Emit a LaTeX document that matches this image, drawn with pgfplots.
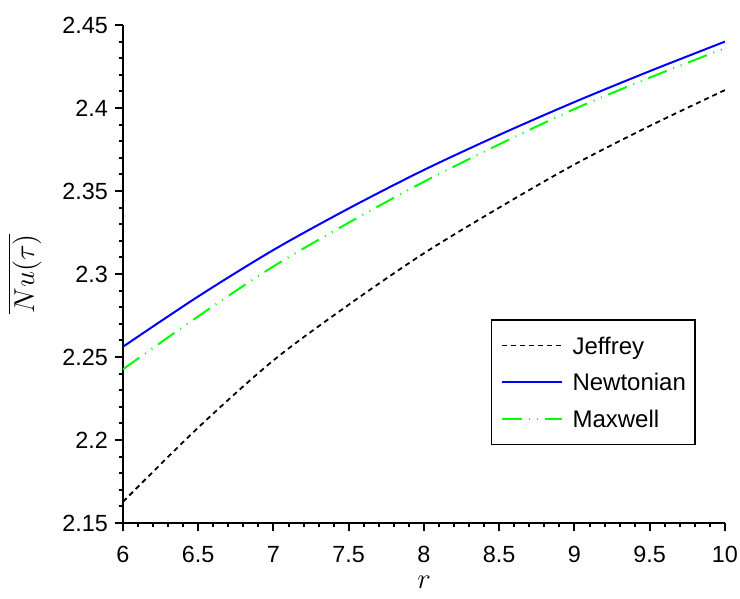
\documentclass[border=0pt]{standalone}
\usepackage{fontspec}
\setmainfont{Liberation Sans}
\usepackage{pgfplots}
\usepackage{pgfplotstable}
\pgfplotsset{compat=1.18}

% Average Nusselt number against r for the three fluid models
\pgfplotstableread{
r    jeffrey  newtonian  maxwell
6.0  2.1628   2.2562     2.2426
6.5  2.2075   2.2865     2.2745
7.0  2.2480   2.3145     2.3046
7.5  2.2815   2.3395     2.3309
8.0  2.3125   2.3627     2.3556
8.5  2.3400   2.3838     2.3781
9.0  2.3660   2.4036     2.3994
9.5  2.3892   2.4222     2.4183
10.0 2.4108   2.4400     2.4360
}\nudata

\begin{document}
\begin{tikzpicture}
\useasboundingbox (-61.5pt,-38pt) rectangle (308.5pt,261.5pt);
\begin{axis}[
  at={(0,0)}, anchor=south west,
  scale only axis, width=301pt, height=249pt,
  xmin=6, xmax=10, ymin=2.15, ymax=2.45,
  axis x line*=bottom, axis y line*=left,
  axis line style={line width=1pt},
  xtick={6,6.5,7,7.5,8,8.5,9,9.5,10},
  ytick={2.15,2.2,2.25,2.3,2.35,2.4,2.45},
  minor tick num=4,
  tick align=outside,
  major tick length=4pt, minor tick length=2pt,
  every tick/.style={black, line width=1pt},
  tick label style={font=\fontsize{11.7}{13}\selectfont},
  xticklabel style={yshift=-4pt},
  /pgf/number format/assume math mode=true,
  xlabel={$r$},
  ylabel={$\overline{Nu(\tau)}$},
  every axis x label/.style={at={(axis description cs:0.5,-0.12)}, anchor=center, font=\fontsize{14.4}{16}\selectfont},
  every axis y label/.style={at={(axis description cs:-0.1628,0.5)}, anchor=center, rotate=90, font=\fontsize{14.4}{16}\selectfont},
  legend cell align=left,
  legend image code/.code={\draw[#1] (0pt,0pt) -- (30pt,0pt);},
  legend style={
    at={(axis description cs:0.611,0.409)}, anchor=north west,
    draw=black, line width=0.7pt,
    font=\fontsize{12}{14}\selectfont,
    inner xsep=4.5pt, inner ysep=5.5pt,
    row sep=3.8pt, column sep=5pt,
    nodes={inner sep=0pt, text height=11.5pt, text depth=3pt},
  },
]
\addplot[black, line width=0.9pt, dash pattern=on 2.5pt off 2pt, smooth]
  table[x=r, y=jeffrey] {\nudata};
\addlegendentry{Jeffrey}
\addplot[blue, line width=1pt, smooth]
  table[x=r, y=newtonian] {\nudata};
\addlegendentry{Newtonian}
\addplot[green, line width=1pt, smooth,
  dash pattern=on 10pt off 3.5pt on 0.5pt off 3.5pt on 0.5pt off 3.5pt]
  table[x=r, y=maxwell] {\nudata};
\addlegendentry{Maxwell}
\end{axis}
\end{tikzpicture}
\end{document}
